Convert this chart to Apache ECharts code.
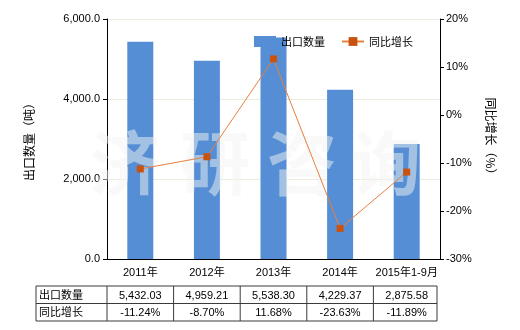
<!DOCTYPE html>
<html><head><meta charset="utf-8">
<script src="https://cdn.jsdelivr.net/npm/echarts@6/dist/echarts.min.js"></script>
<style>html,body{margin:0;padding:0;background:#fff}#c{width:520px;height:330px}</style>
</head><body><div id="c"></div>
<script>
var categories = ['2011年', '2012年', '2013年', '2014年', '2015年1-9月'];
var exportQty = [5432.03, 4959.21, 5538.30, 4229.37, 2875.58];
var yoyGrowth = [-11.24, -8.70, 11.68, -23.63, -11.89];
var qtyLabels = ['5,432.03', '4,959.21', '5,538.30', '4,229.37', '2,875.58'];
var growthLabels = ['-11.24%', '-8.70%', '11.68%', '-23.63%', '-11.89%'];
var seriesNames = ['出口数量', '同比增长'];
var watermark = ['济', '研', '咨', '询'];

var cjk = '"Noto Sans CJK SC", "Liberation Sans", sans-serif';
var num = '"Liberation Sans", "Noto Sans CJK SC", sans-serif';
var chart = echarts.init(document.getElementById('c'));
var option = {
  animation: false,
  backgroundColor: '#fff',
  grid: {left: 107, right: 80, top: 19, bottom: 71},
  legend: {
    top: 31, left: 249, itemWidth: 22, itemHeight: 11, itemGap: 16,
    textStyle: {fontFamily: cjk, fontSize: 11, color: '#000'},
    data: [{name: seriesNames[0], icon: 'rect'}, {name: seriesNames[1]}]
  },
  xAxis: {
    type: 'category', data: categories,
    axisLine: {lineStyle: {color: '#000'}},
    axisTick: {alignWithLabel: true, length: 4, lineStyle: {color: '#000'}},
    axisLabel: {interval: 0, fontFamily: num, fontSize: 11, color: '#000', margin: 8}
  },
  yAxis: [{
    type: 'value', min: 0, max: 6000, interval: 2000,
    name: '出口数量（吨）', nameLocation: 'middle', nameGap: 72, nameRotate: 90,
    nameTextStyle: {fontFamily: cjk, fontSize: 12, color: '#000'},
    axisLine: {show: true, lineStyle: {color: '#000'}},
    axisTick: {show: true, length: 4, lineStyle: {color: '#000'}},
    axisLabel: {fontFamily: num, fontSize: 11, color: '#000', margin: 7,
      formatter: function (v) { return v.toLocaleString('en-US', {minimumFractionDigits: 1, maximumFractionDigits: 1}); }},
    splitLine: {lineStyle: {color: '#ecebdc'}}
  }, {
    type: 'value', min: -30, max: 20, interval: 10, position: 'right',
    name: '同比增长（%）', nameLocation: 'middle', nameGap: 45, nameRotate: -90,
    nameTextStyle: {fontFamily: cjk, fontSize: 12, color: '#000'},
    axisLine: {show: true, lineStyle: {color: '#000'}},
    axisTick: {show: true, length: 4, lineStyle: {color: '#000'}},
    axisLabel: {fontFamily: num, fontSize: 11, color: '#000', margin: 6, formatter: '{value}%'},
    splitLine: {show: false}
  }],
  series: [{
    name: seriesNames[0], type: 'bar', data: exportQty, barWidth: 26,
    itemStyle: {color: '#558ed5'}, z: 2
  }, {
    name: seriesNames[1], type: 'line', yAxisIndex: 1, data: yoyGrowth,
    symbol: 'rect', symbolSize: 7,
    lineStyle: {color: '#e8803f', width: 1},
    itemStyle: {color: '#c9520f'}, z: 5
  }]
};
chart.setOption(option);

function buildGraphics() {
  var els = [];
  var wmX = [125, 215, 302, 386];
  for (var i = 0; i < watermark.length; i++) {
    els.push({type: 'text', x: wmX[i], y: 163, z: 3, silent: true,
      style: {text: watermark[i], fontFamily: cjk, fontSize: 70, fontWeight: 'bold',
        fill: 'rgba(242,244,242,0.5)', align: 'center', verticalAlign: 'middle'}});
  }
  var centers = categories.map(function (c) { return chart.convertToPixel({xAxisIndex: 0}, c); });
  var band = centers.length > 1 ? centers[1] - centers[0] : 66;
  var left = 36, firstCol = centers[0] - band / 2, right = centers[centers.length - 1] + band / 2 - 3;
  var rows = [286, 303.5, 321];
  var lc = '#3a3a3a';
  rows.forEach(function (y) {
    els.push({type: 'line', shape: {x1: left, y1: y, x2: right, y2: y}, style: {stroke: lc, lineWidth: 1}});
  });
  var xs = [left, firstCol];
  for (var k = 1; k < centers.length; k++) xs.push(centers[k] - band / 2);
  xs.push(right);
  xs.forEach(function (x) {
    els.push({type: 'line', shape: {x1: x, y1: rows[0], x2: x, y2: rows[2]}, style: {stroke: lc, lineWidth: 1}});
  });
  var rowLabels = [seriesNames[0], seriesNames[1]];
  var rowVals = [qtyLabels, growthLabels];
  for (var r = 0; r < 2; r++) {
    var cy = (rows[r] + rows[r + 1]) / 2;
    els.push({type: 'text', x: left + 3, y: cy, style: {text: rowLabels[r], fontFamily: cjk, fontSize: 11, fill: '#000', align: 'left', verticalAlign: 'middle'}});
    for (var j = 0; j < centers.length; j++) {
      els.push({type: 'text', x: centers[j], y: cy + 1, style: {text: rowVals[r][j], fontFamily: num, fontSize: 11, fill: '#000', align: 'center', verticalAlign: 'middle'}});
    }
  }
  chart.setOption({graphic: {elements: els}});
}
buildGraphics();
</script>
</body></html>
